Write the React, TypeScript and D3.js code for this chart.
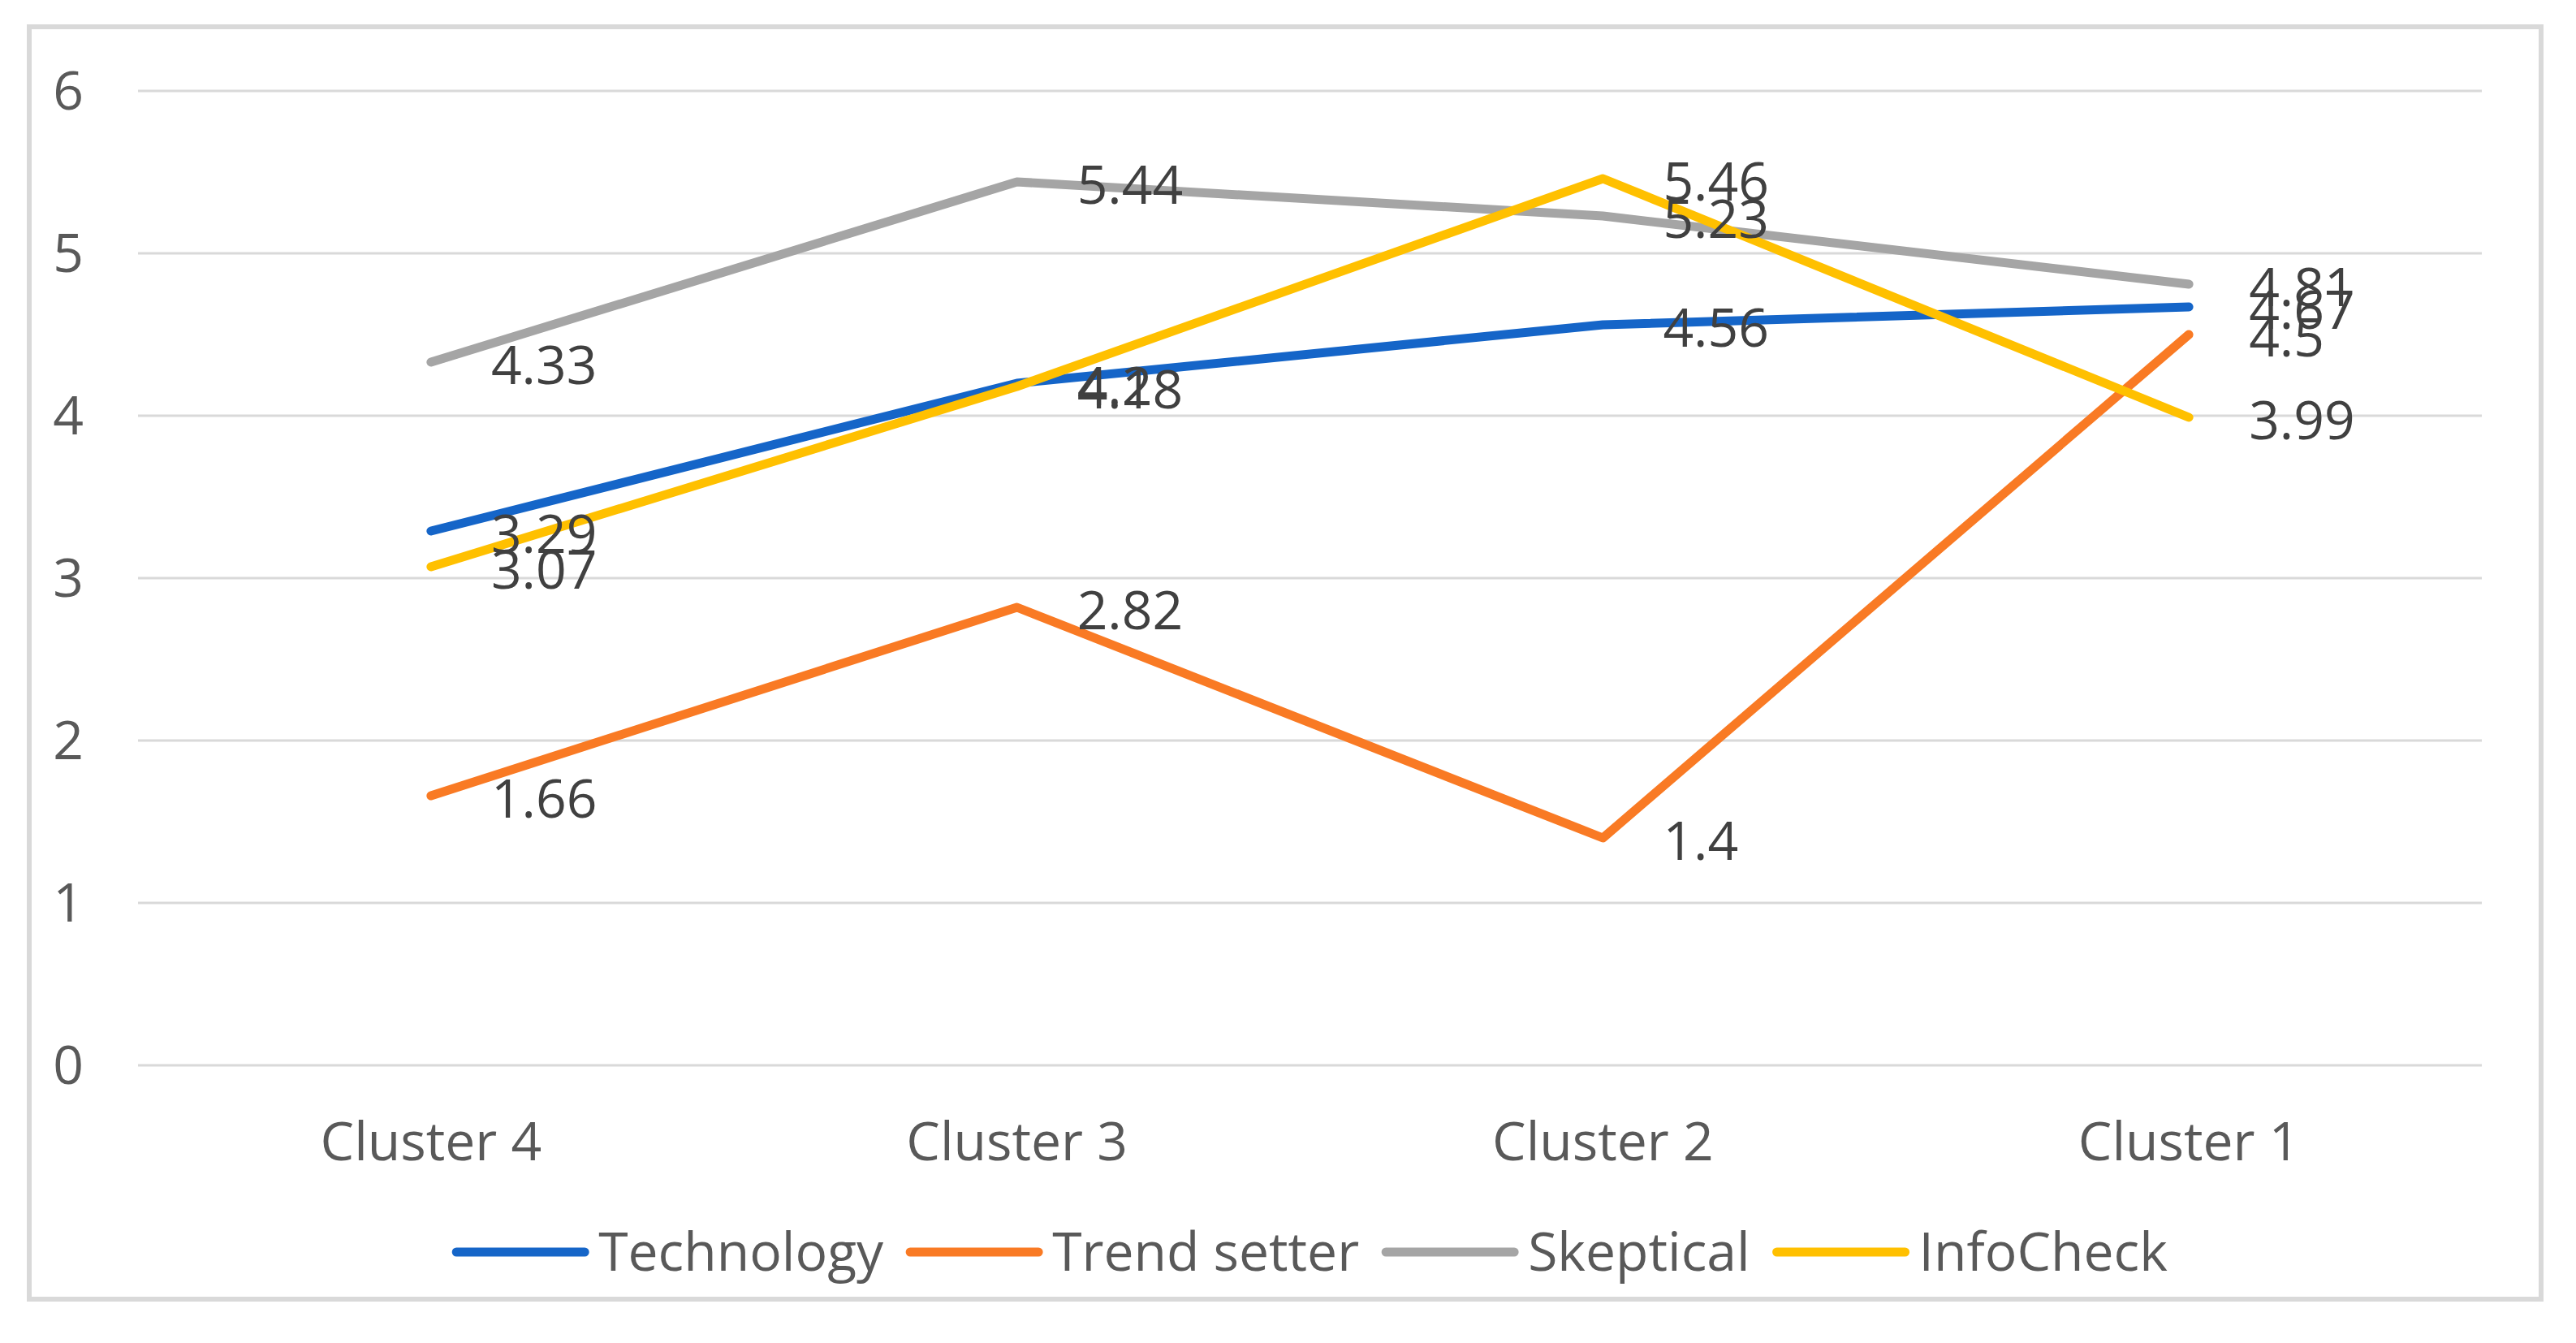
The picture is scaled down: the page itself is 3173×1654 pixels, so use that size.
import React, { useEffect, useRef } from "react";
import * as d3 from "d3";

const categories = ["Cluster 4", "Cluster 3", "Cluster 2", "Cluster 1"];
const seriesNames = ["Technology", "Trend setter", "Skeptical", "InfoCheck"];
const technology = [3.29, 4.2, 4.56, 4.67];
const trendSetter = [1.66, 2.82, 1.4, 4.5];
const skeptical = [4.33, 5.44, 5.23, 4.81];
const infoCheck = [3.07, 4.18, 5.46, 3.99];
const seriesColors = ["#1565C8", "#F97A24", "#A5A5A5", "#FFC000"];
const yTicks = [0, 1, 2, 3, 4, 5, 6];

const W = 3173;
const H = 1654;
const FONT = "'Open Sans', sans-serif";

export default function App() {
  const ref = useRef<SVGSVGElement>(null);

  useEffect(() => {
    const svg = d3.select(ref.current);
    svg.selectAll("*").remove();

    const seriesValues = [technology, trendSetter, skeptical, infoCheck];

    const x = d3.scaleBand<string>().domain(categories).range([170, 3057]);
    const y = d3.scaleLinear().domain([0, 6]).range([1312, 112]);
    const cx = (c: string) => (x(c) as number) + x.bandwidth() / 2;

    svg.append("rect").attr("x", 0).attr("y", 0).attr("width", W).attr("height", H).attr("fill", "#fff");
    svg
      .append("rect")
      .attr("x", 36)
      .attr("y", 33)
      .attr("width", 3094)
      .attr("height", 1567)
      .attr("fill", "#fff")
      .attr("stroke", "#d9d9d9")
      .attr("stroke-width", 6);

    // gridlines
    svg
      .append("g")
      .selectAll("line")
      .data(yTicks)
      .join("line")
      .attr("x1", 170)
      .attr("x2", 3057)
      .attr("y1", (d) => y(d))
      .attr("y2", (d) => y(d))
      .attr("stroke", "#d9d9d9")
      .attr("stroke-width", 3);

    // y tick labels
    svg
      .append("g")
      .selectAll("text")
      .data(yTicks)
      .join("text")
      .attr("x", 103)
      .attr("y", (d) => y(d))
      .attr("dy", "0.35em")
      .attr("text-anchor", "end")
      .attr("font-family", FONT)
      .attr("font-size", 66)
      .attr("fill", "#595959")
      .text((d) => String(d));

    // category labels
    svg
      .append("g")
      .selectAll("text")
      .data(categories)
      .join("text")
      .attr("x", (d) => cx(d))
      .attr("y", 1406)
      .attr("dy", "0.35em")
      .attr("text-anchor", "middle")
      .attr("font-family", FONT)
      .attr("font-size", 66)
      .attr("fill", "#595959")
      .text((d) => d);

    const line = d3
      .line<number>()
      .x((_, i) => cx(categories[i]))
      .y((d) => y(d));

    seriesValues.forEach((vals, si) => {
      svg
        .append("path")
        .attr("d", line(vals) as string)
        .attr("fill", "none")
        .attr("stroke", seriesColors[si])
        .attr("stroke-width", 11)
        .attr("stroke-linecap", "round")
        .attr("stroke-linejoin", "round");
    });

    seriesValues.forEach((vals) => {
      svg
        .append("g")
        .selectAll("text")
        .data(vals)
        .join("text")
        .attr("x", (_, i) => cx(categories[i]) + 74)
        .attr("y", (d) => y(d) + 4)
        .attr("dy", "0.35em")
        .attr("font-family", FONT)
        .attr("font-size", 66)
        .attr("fill", "#404040")
        .text((d) => String(d));
    });

    // legend
    const lg = svg.append("g");
    const lineLen = 168;
    const gapText = 12;
    const gapItem = 28;
    const items: { w: number }[] = [];
    const texts = seriesNames.map((n) =>
      lg
        .append("text")
        .attr("font-family", FONT)
        .attr("font-size", 66)
        .attr("fill", "#595959")
        .attr("y", 1542)
        .attr("dy", "0.35em")
        .text(n)
    );
    texts.forEach((t) => items.push({ w: (t.node() as SVGTextElement).getComputedTextLength() }));
    const total = items.reduce((a, it) => a + lineLen + gapText + it.w, 0) + gapItem * (items.length - 1);
    let cur = (170 + 3057) / 2 - total / 2;
    items.forEach((it, i) => {
      lg.append("line")
        .attr("x1", cur + 5)
        .attr("x2", cur + lineLen - 5)
        .attr("y1", 1542)
        .attr("y2", 1542)
        .attr("stroke", seriesColors[i])
        .attr("stroke-width", 11)
        .attr("stroke-linecap", "round");
      texts[i].attr("x", cur + lineLen + gapText);
      cur += lineLen + gapText + it.w + gapItem;
    });
  }, []);

  return (
    <svg
      ref={ref}
      width={W}
      height={H}
      style={{ position: "absolute", left: 0, top: 0, display: "block" }}
    />
  );
}
